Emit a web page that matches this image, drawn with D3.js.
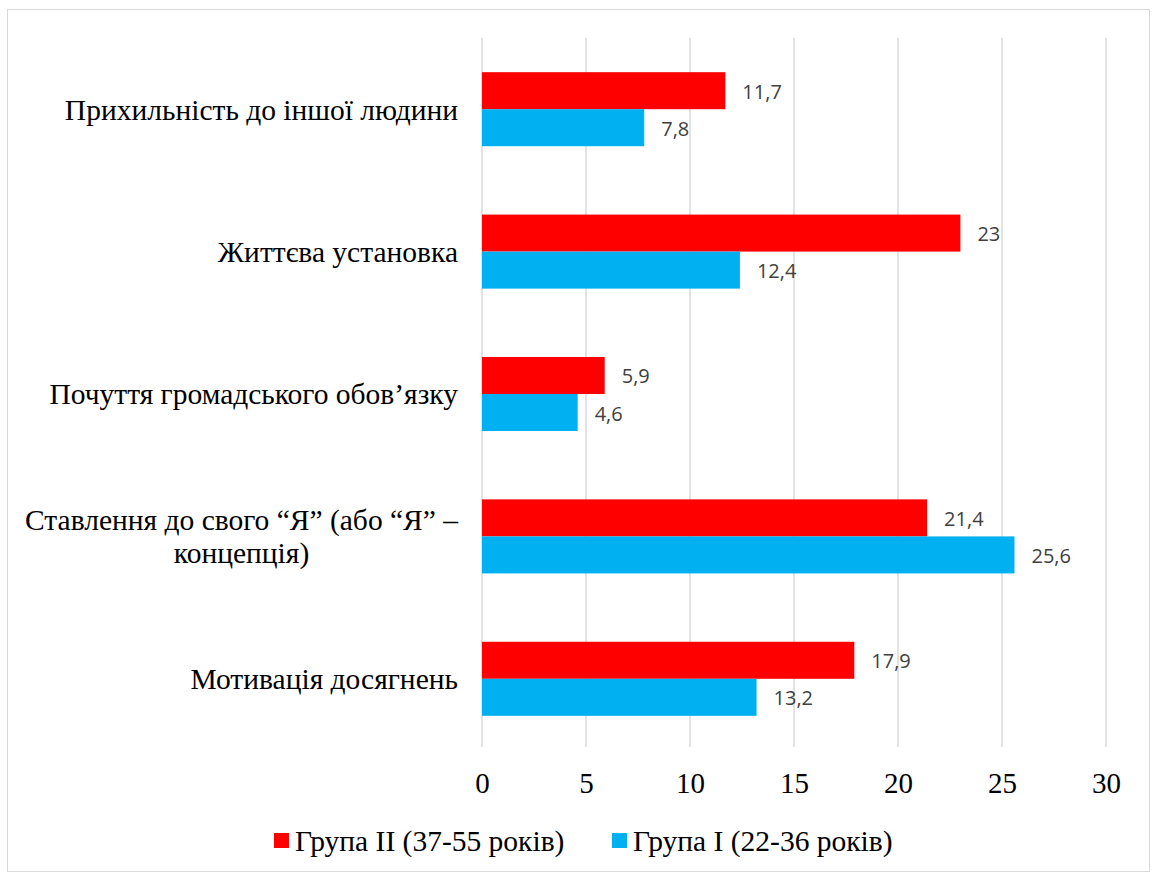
<!DOCTYPE html>
<html>
<head>
<meta charset="utf-8">
<script src="https://cdn.jsdelivr.net/npm/d3@7"></script>
<style>
  body { margin: 0; background: #fff; }
  .serif { font-family: "Liberation Serif", "Times New Roman", Tinos, "DejaVu Serif", serif; }
</style>
</head>
<body>
<div id="chart"></div>
<script>
// categories, top to bottom
const categories = [
    ["Прихильність до іншої людини"],
    ["Життєва установка"],
    ["Почуття громадського обов’язку"],
    ["Ставлення до свого “Я” (або “Я” –", "концепція)"],
    ["Мотивація досягнень"]
];
const seriesNames = ["Група II (37-55 років)", "Група I (22-36 років)"];
const group2 = [11.7, 23, 5.9, 21.4, 17.9];
const group1 = [7.8, 12.4, 4.6, 25.6, 13.2];
const xTicks = [0, 5, 10, 15, 20, 25, 30];
const colors = ["#ff0000", "#00b0f0"];

const width = 1152, height = 872;
const plot = { left: 482, right: 1106, top: 38, bottom: 750 };

const svg = d3.select("#chart").append("svg")
    .attr("width", width)
    .attr("height", height);

svg.append("rect")
    .attr("x", 7.5).attr("y", 9.5)
    .attr("width", 1142).attr("height", 862)
    .attr("fill", "#fff")
    .attr("stroke", "#d9d9d9");

var x = d3.scaleLinear().domain([0, 30]).range([plot.left, plot.right]);
var y = d3.scaleBand()
    .domain(d3.range(categories.length))
    .range([plot.top, plot.bottom])
    .paddingInner(0.48)
    .paddingOuter(0.24);
var sub = d3.scaleBand().domain([0, 1]).range([0, y.bandwidth()]);

// gridlines
svg.append("g")
    .selectAll("line")
    .data(xTicks)
    .join("line")
    .attr("x1", d => x(d)).attr("x2", d => x(d))
    .attr("y1", plot.top).attr("y2", plot.bottom - 3)
    .attr("stroke", "#d9d9d9")
    .attr("stroke-width", 1.5);

// x axis labels
var xAxis = svg.append("g")
    .attr("transform", "translate(0,773)")
    .call(d3.axisBottom(x).tickValues(xTicks).tickSize(0).tickPadding(0).tickFormat(d3.format("d")));
xAxis.select(".domain").remove();
xAxis.attr("font-family", null).attr("font-size", null);
xAxis.selectAll("text")
    .attr("dy", null)
    .attr("y", 20)
    .attr("class", "serif")
    .style("font-size", "29px")
    .attr("fill", "#000");

// bars
const series = [group2, group1];
series.forEach(function(vals, s) {
    var g = svg.append("g");
    g.selectAll("rect")
        .data(vals)
        .join("rect")
        .attr("x", x(0))
        .attr("y", (d, i) => y(i) + sub(s))
        .attr("width", d => x(d) - x(0))
        .attr("height", sub.bandwidth())
        .attr("fill", colors[s]);
    g.selectAll("text")
        .data(vals)
        .join("text")
        .attr("x", d => x(d) + 17)
        .attr("y", (d, i) => y(i) + sub(s) + sub.bandwidth() / 2 + 1)
        .attr("dy", "0.35em")
        .style("font-family", "'Open Sans', Calibri, sans-serif")
        .style("font-size", "20px")
        .attr("fill", "#404040")
        .text(d => String(d).replace(".", ","));
});

// category labels
var labelRight = 458;
categories.forEach(function(lines, i) {
    var cy = y(i) + y.bandwidth() / 2;
    var lh = 33;
    var t = svg.append("text")
        .attr("class", "serif")
        .style("font-size", "29.5px")
        .attr("fill", "#000");
    if (lines.length === 1) {
        t.attr("x", labelRight).attr("y", cy).attr("dy", "0.35em")
            .attr("text-anchor", "end").text(lines[0]);
    } else {
        // measure widest line so wrapped text is centred like Excel does
        var probe = t.append("tspan").text(lines[0]);
        var w = probe.node().getComputedTextLength();
        probe.remove();
        var cx = labelRight - w / 2;
        t.attr("text-anchor", "middle");
        lines.forEach(function(l, k) {
            t.append("tspan")
                .attr("x", cx)
                .attr("y", cy + (k - (lines.length - 1) / 2) * lh)
                .attr("dy", "0.35em")
                .text(l);
        });
    }
});

// legend
var legend = svg.append("g").attr("transform", "translate(0,840)");
var legX = [274, 612];
seriesNames.forEach(function(name, s) {
    legend.append("rect")
        .attr("x", legX[s]).attr("y", -7)
        .attr("width", 15).attr("height", 15)
        .attr("fill", colors[s]);
    legend.append("text")
        .attr("x", legX[s] + 21).attr("y", 11)
        .attr("class", "serif")
        .style("font-size", "29.5px")
        .attr("fill", "#000")
        .text(name);
});
</script>
</body>
</html>
